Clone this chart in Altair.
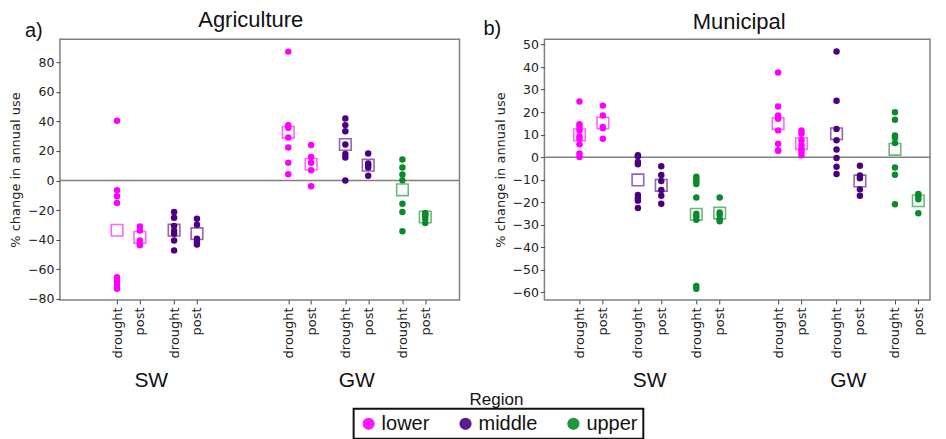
import altair as alt
import pandas as pd

regions = ["lower", "middle", "upper"]
region_colors = ["#ff00ff", "#4b0082", "#0a8a2a"]

# ---- Agriculture (% change in annual use) ----
ag_sw_lower_drought = [40.5, -6.6, -10.6, -15.1, -65.3, -68.0, -70.5, -73.2]
ag_sw_lower_post = [-31.0, -33.7, -40.5, -42.7, -43.8]
ag_sw_middle_drought = [-21.2, -25.1, -30.7, -34.1, -35.9, -40.5, -47.2]
ag_sw_middle_post = [-25.8, -29.8, -39.3, -41.6, -43.2]
ag_gw_lower_drought = [87.2, 37.5, 35.7, 29.2, 22.4, 12.0, 4.3]
ag_gw_lower_post = [24.0, 16.0, 12.0, 7.0, -3.8]
ag_gw_middle_drought = [42.0, 37.5, 33.4, 24.4, 17.9, 15.6, 0.0]
ag_gw_middle_post = [18.3, 11.5, 10.4, 8.8, 3.2]
ag_gw_upper_drought = [14.2, 8.8, 4.1, 0.2, -15.6, -21.2, -34.3]
ag_gw_upper_post = [-21.9, -23.7, -25.8, -28.7, -23.0]

# ---- Municipal (% change in annual use) ----
mu_sw_lower_drought = [24.7, 14.6, 13.4, 11.9, 9.3, 8.2, 5.7, 1.6, 0.1]
mu_sw_lower_post = [22.9, 18.5, 13.4, 12.9, 8.2]
mu_sw_middle_drought = [0.9, 0.4, -2.1, -3.1, -16.8, -18.2, -19.3, -22.6]
mu_sw_middle_post = [-4.0, -7.9, -10.6, -14.6, -17.1, -20.7]
mu_sw_upper_drought = [-8.7, -9.7, -10.9, -11.9, -17.9, -25.1, -26.3, -27.8, -57.2, -58.4]
mu_sw_upper_post = [-17.9, -24.6, -25.6, -27.5, -28.5]
mu_gw_lower_drought = [37.6, 22.5, 18.5, 17.1, 11.9, 6.0, 3.1, 2.8]
mu_gw_lower_post = [11.9, 10.4, 7.5, 5.3, 3.8, 2.4, 0.9]
mu_gw_middle_drought = [46.9, 25.1, 12.5, 7.5, 3.4, -0.4, -4.3, -7.5]
mu_gw_middle_post = [-3.8, -8.1, -9.4, -14.3, -17.1]
mu_gw_upper_drought = [20.0, 16.6, 9.6, 8.7, 6.3, -4.6, -7.8, -20.9]
mu_gw_upper_post = [-16.3, -17.5, -18.7, -24.9]

ag_series = {
    ("SW", "lower", "drought"): ag_sw_lower_drought,
    ("SW", "lower", "post"): ag_sw_lower_post,
    ("SW", "middle", "drought"): ag_sw_middle_drought,
    ("SW", "middle", "post"): ag_sw_middle_post,
    ("GW", "lower", "drought"): ag_gw_lower_drought,
    ("GW", "lower", "post"): ag_gw_lower_post,
    ("GW", "middle", "drought"): ag_gw_middle_drought,
    ("GW", "middle", "post"): ag_gw_middle_post,
    ("GW", "upper", "drought"): ag_gw_upper_drought,
    ("GW", "upper", "post"): ag_gw_upper_post,
}
mu_series = {
    ("SW", "lower", "drought"): mu_sw_lower_drought,
    ("SW", "lower", "post"): mu_sw_lower_post,
    ("SW", "middle", "drought"): mu_sw_middle_drought,
    ("SW", "middle", "post"): mu_sw_middle_post,
    ("SW", "upper", "drought"): mu_sw_upper_drought,
    ("SW", "upper", "post"): mu_sw_upper_post,
    ("GW", "lower", "drought"): mu_gw_lower_drought,
    ("GW", "lower", "post"): mu_gw_lower_post,
    ("GW", "middle", "drought"): mu_gw_middle_drought,
    ("GW", "middle", "post"): mu_gw_middle_post,
    ("GW", "upper", "drought"): mu_gw_upper_drought,
    ("GW", "upper", "post"): mu_gw_upper_post,
}


def to_frame(series):
    rows = []
    for (src, reg, per), vals in series.items():
        for v in vals:
            rows.append({"key": f"{src}|{reg}|{per}", "region": reg, "value": v})
    return pd.DataFrame(rows)


def make_slots(n, placed):
    slots = [f"s{i}" for i in range(n + 1)]
    for i, k in placed.items():
        slots[i] = k
    return slots


keys = lambda s, r: [f"{s}|{r}|drought", f"{s}|{r}|post"]
left_slots = make_slots(35, dict(zip([5, 7, 10, 12, 20, 22, 25, 27, 30, 32],
                                     keys("SW", "lower") + keys("SW", "middle") + keys("GW", "lower")
                                     + keys("GW", "middle") + keys("GW", "upper"))))
right_slots = make_slots(33, dict(zip([3, 5, 8, 10, 13, 15, 20, 22, 25, 27, 30, 32],
                                      keys("SW", "lower") + keys("SW", "middle") + keys("SW", "upper")
                                      + keys("GW", "lower") + keys("GW", "middle") + keys("GW", "upper"))))

SANS = "Liberation Sans, Arial, sans-serif"
NARROW = "Liberation Sans Narrow, Arial Narrow, Liberation Sans, sans-serif"
DV = "DejaVu Sans, sans-serif"
H = 261

color_scale = alt.Scale(domain=regions, range=region_colors)


def panel(series, slots, width, ydomain, yticks, title, title_offset, title_dx, letter,
          letter_x, letter_y, group_slots, extra_texts=None):
    df = to_frame(series)
    xscale = alt.Scale(type="point", domain=slots, padding=0)
    xaxis = alt.Axis(
        labelExpr="indexof(datum.value, '|') >= 0 ? split(datum.value, '|')[2] : ''",
        labelAngle=270, labelFontSize=13, labelFont=DV, labelColor="#222",
        labelOverlap=False, labelBound=False, labelPadding=3, tickSize=4,
        tickColor="#444", domain=False,
        tickOpacity={"condition": {"test": "indexof(datum.value, '|') < 0", "value": 0}, "value": 1},
    )
    x = alt.X("key:N", scale=xscale, axis=xaxis, title=None)
    yscale = alt.Scale(domain=ydomain, nice=False, zero=False)
    yaxis = alt.Axis(values=yticks, labelExpr="replace(datum.label, '-', '\u2212')",
                     labelFontSize=12.5, labelFont=DV, labelColor="#222", tickSize=4,
                     tickColor="#444", domain=False, grid=False, titleFont=DV,
                     titleFontSize=13, titleFontWeight="normal", titleColor="#222",
                     titlePadding=5)
    y = alt.Y("value:Q", scale=yscale, axis=yaxis, title="% change in annual use")

    base = alt.Chart(df)
    zero = alt.Chart(pd.DataFrame({"value": [0]})).mark_rule(
        color="#808080", strokeWidth=1.5).encode(y=y)
    points = base.mark_circle(size=42, opacity=1).encode(
        x=x, y=y,
        color=alt.Color("region:N", scale=color_scale,
                        legend=alt.Legend(orient="none", legendX=294, legendY=370,
                                          direction="horizontal", title=None)))
    means = base.transform_aggregate(
        value="mean(value)", groupby=["key", "region"]
    ).mark_point(shape="square", filled=False, size=135, strokeWidth=1.6, opacity=0.6).encode(
        x=x, y=y, color=alt.Color("region:N", scale=color_scale, legend=None))
    groups = alt.Chart(pd.DataFrame({"key": group_slots, "label": ["SW", "GW"]})).mark_text(
        fontSize=21, font=NARROW, baseline="alphabetic", align="center", color="#111"
    ).encode(x=x, y=alt.value(348), text="label:N")
    let = alt.Chart(pd.DataFrame({"t": [letter]})).mark_text(
        fontSize=20, font=SANS, baseline="alphabetic", align="left", color="#111"
    ).encode(x=alt.value(letter_x), y=alt.value(letter_y), text="t:N")
    layers = [zero, points, means, groups, let]
    if extra_texts:
        layers += extra_texts
    return alt.layer(*layers).properties(
        width=width, height=H,
        title=alt.TitleParams(title, fontSize=22, font=SANS, fontWeight="normal",
                              color="#111", anchor="middle", dx=title_dx, offset=title_offset),
    )


region_title = alt.Chart(pd.DataFrame({"t": ["Region"]})).mark_text(
    fontSize=17, font=SANS, baseline="alphabetic", align="center", color="#111"
).encode(x=alt.value(437), y=alt.value(366), text="t:N")

left = panel(ag_series, left_slots, 400, [-80.7, 95.6], list(range(-80, 81, 20)),
             "Agriculture", -11, -9, "a)", -35, -2, ["s8", "s26"], [region_title])
right = panel(mu_series, right_slots, 386, [-63.4, 52.4], list(range(-60, 51, 10)),
              "Municipal", -15, 2, "b)", -61, -4, ["s9", "s26"])

chart = alt.hconcat(left, right, spacing=85, bounds="flush").resolve_scale(
    color="shared"
).properties(
    padding=0
).configure_view(
    stroke="#808080", strokeWidth=1.5
).configure_legend(
    strokeColor="#111", strokeWidth=2, fillColor="white", padding=5, cornerRadius=0,
    symbolType="circle", symbolSize=150, symbolStrokeWidth=0, symbolOpacity=0.9,
    labelFont=NARROW, labelFontSize=20, labelColor="#111", labelOffset=3,
    columnPadding=26,
)

chart.save("out.html", embed_options={"renderer": "svg", "actions": False})
